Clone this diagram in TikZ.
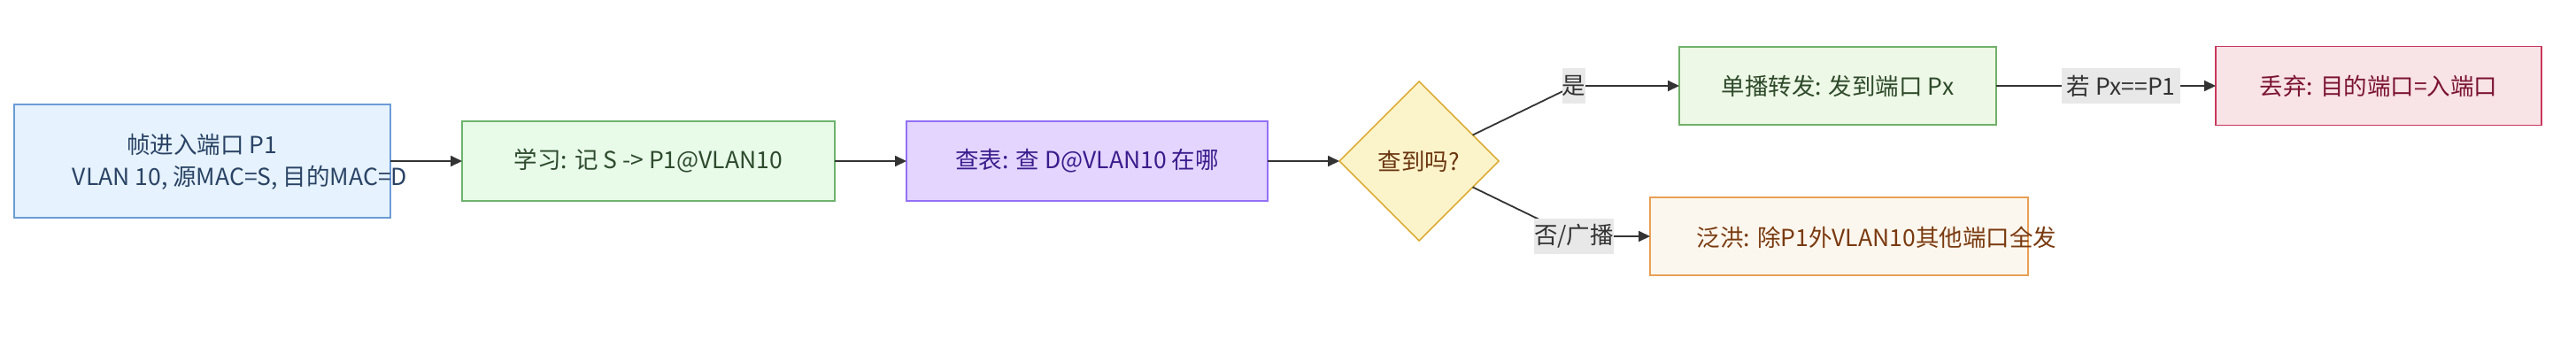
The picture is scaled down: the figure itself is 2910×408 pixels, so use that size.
\documentclass[tikz,border=0pt]{standalone}
\usepackage{fontspec}
\setmainfont{Noto Sans CJK SC}
\usetikzlibrary{shapes.geometric,arrows.meta}
\definecolor{inFill}{HTML}{E6F2FD}
\definecolor{inDraw}{HTML}{6B9BD6}
\definecolor{inText}{HTML}{2A4365}
\definecolor{lnFill}{HTML}{E8FAE8}
\definecolor{lnDraw}{HTML}{6DB36D}
\definecolor{lnText}{HTML}{2D4A2D}
\definecolor{lkFill}{HTML}{E3D5FF}
\definecolor{lkDraw}{HTML}{9370F5}
\definecolor{lkText}{HTML}{3B1C8C}
\definecolor{dmFill}{HTML}{FBF3C9}
\definecolor{dmDraw}{HTML}{DBA626}
\definecolor{dmText}{HTML}{6B3510}
\definecolor{ucFill}{HTML}{EDF8E6}
\definecolor{ucDraw}{HTML}{72B06A}
\definecolor{ucText}{HTML}{2E4A2A}
\definecolor{flFill}{HTML}{FCF7EE}
\definecolor{flDraw}{HTML}{E8A055}
\definecolor{flText}{HTML}{7A3A0F}
\definecolor{drFill}{HTML}{F8E3E7}
\definecolor{drDraw}{HTML}{C8385C}
\definecolor{drText}{HTML}{7B1332}
\definecolor{lblFill}{HTML}{E8E8E8}
\definecolor{lineCol}{HTML}{333333}
\begin{document}
\begin{tikzpicture}[x=1pt,y=-1pt,
  every node/.style={font=\fontsize{26.5}{32}\selectfont, inner sep=0pt, outer sep=0pt},
  boxnode/.style={draw, rectangle, line width=1.4pt},
  txtnode/.style={anchor=center},
  lblnode/.style={fill=lblFill, text=lineCol, minimum height=40pt},
  arr/.style={draw=lineCol, line width=1.8pt, -{Triangle[length=13pt,width=12pt]}},
  seg/.style={draw=lineCol, line width=1.8pt}
]
\fill[white] (0,0) rectangle (2910,408);
\useasboundingbox (0,0) rectangle (2910,408);

% boxes
\node[boxnode, fill=inFill, draw=inDraw, minimum width=425pt, minimum height=128pt] (in) at (228.5,182) {};
\node[txtnode, text=inText] (inT1) at (228,163) {帧进入端口 P1};
\node[txtnode, text=inText] (inT2) at (271,201) {VLAN 10, 源MAC=S, 目的MAC=D};

\node[boxnode, fill=lnFill, draw=lnDraw, text=lnText, minimum width=421pt, minimum height=90pt] (learn) at (732.5,182) {学习: 记 S -> P1@VLAN10};

\node[boxnode, fill=lkFill, draw=lkDraw, text=lkText, minimum width=408pt, minimum height=90pt] (lookup) at (1228,182) {查表: 查 D@VLAN10 在哪};

\node[draw=dmDraw, fill=dmFill, text=dmText, diamond, line width=1.4pt, minimum width=180pt, minimum height=180pt] (dia) at (1603,182) {查到吗?};

\node[boxnode, fill=ucFill, draw=ucDraw, text=ucText, minimum width=358pt, minimum height=88pt] (uni) at (2076,97) {单播转发: 发到端口 Px};

\node[boxnode, fill=drFill, draw=drDraw, text=drText, minimum width=368pt, minimum height=89pt] (drop) at (2687,97) {丢弃: 目的端口=入端口};

\node[boxnode, fill=flFill, draw=flDraw, minimum width=427pt, minimum height=88pt] (flood) at (2077.5,267) {};
\node[txtnode, text=flText] (floodT) at (2120,268) {泛洪: 除P1外VLAN10其他端口全发};

% connectors
\coordinate (yesP) at (1778,97);
\coordinate (noP) at (1778,267);
\coordinate (ifP) at (2396,97);

\draw[arr] (in.east |- 0,182) -- (learn.west);
\draw[arr] (learn) -- (lookup);
\draw[arr] (lookup) -- (dia);
\draw[seg] (dia) -- (yesP);
\draw[arr] (yesP) -- (uni.west);
\draw[seg] (dia) -- (noP);
\draw[arr] (noP) -- (flood.west);
\draw[arr] (uni) -- (drop);

% edge labels
\node[lblnode, minimum width=26pt] (yesL) at (yesP) {是};
\node[lblnode, minimum width=90pt] (noL) at (noP) {否/广播};
\node[lblnode, minimum width=134pt] (ifL) at (ifP) {若 Px==P1};
\end{tikzpicture}
\end{document}
